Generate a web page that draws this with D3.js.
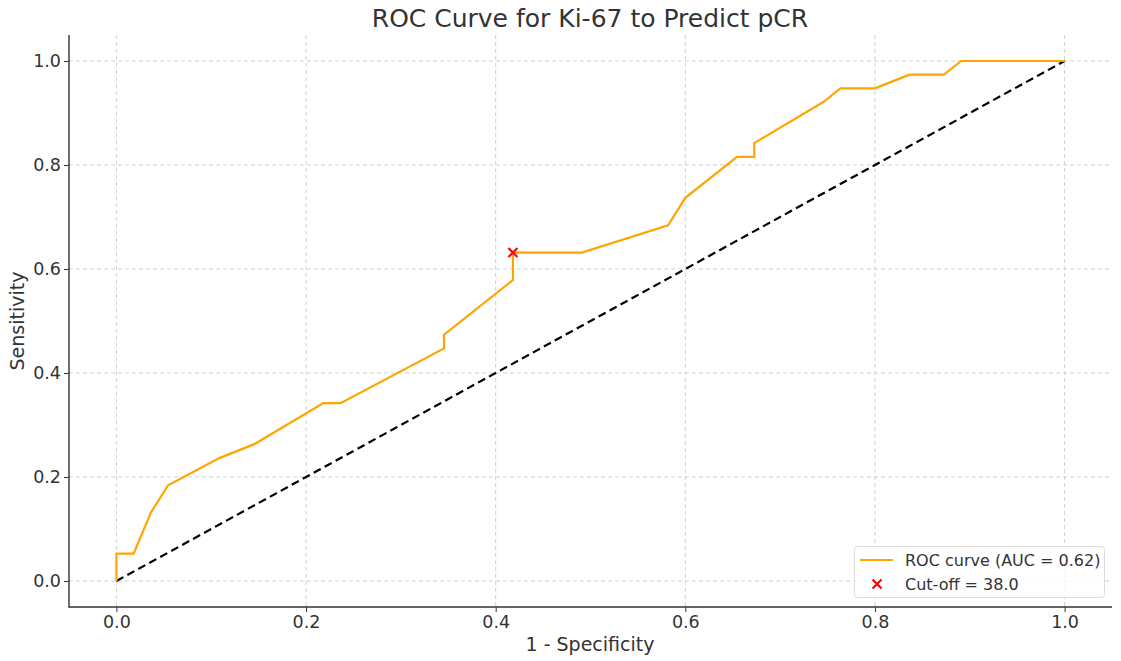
<!DOCTYPE html>
<html>
<head>
<meta charset="utf-8">
<script src="https://cdn.jsdelivr.net/npm/d3@7"></script>
<style>
  html, body { margin: 0; padding: 0; background: #fff; }
  svg { display: block; font-family: "DejaVu Sans", sans-serif; }
</style>
</head>
<body>
<svg id="chart" width="1121" height="661"></svg>
<script>
// ROC curve points (1 - Specificity, Sensitivity)
const fpr = [0, 0, 0.0182, 0.0364, 0.0545, 0.1091, 0.1455, 0.2182, 0.2364, 0.3455, 0.3455, 0.4182, 0.4182, 0.4909, 0.5818, 0.6, 0.6545, 0.6727, 0.6727, 0.7455, 0.7636, 0.8, 0.8364, 0.8727, 0.8909, 1.0];
const tpr = [0, 0.0526, 0.0526, 0.1316, 0.1842, 0.2368, 0.2632, 0.3421, 0.3421, 0.4474, 0.4737, 0.5789, 0.6316, 0.6316, 0.6842, 0.7368, 0.8158, 0.8158, 0.8421, 0.9211, 0.9474, 0.9474, 0.9737, 0.9737, 1.0, 1.0];
const cutoff = { fpr: 0.4182, tpr: 0.6316, label: "Cut-off = 38.0" };
const diagonal = [[0, 0], [1, 1]];
const xTicks = [0.0, 0.2, 0.4, 0.6, 0.8, 1.0];
const yTicks = [0.0, 0.2, 0.4, 0.6, 0.8, 1.0];
const title = "ROC Curve for Ki-67 to Predict pCR";
const xLabel = "1 - Specificity";
const yLabel = "Sensitivity";
const legendLabels = ["ROC curve (AUC = 0.62)", cutoff.label];

const svg = d3.select("#chart");
const L = 69, R = 1112, T = 35, B = 607;
const x = d3.scaleLinear().domain([-0.05, 1.05]).range([L, R]);
const y = d3.scaleLinear().domain([-0.05, 1.05]).range([B, T]);
const textColor = "#333333";

// grid
const grid = svg.append("g");
grid.selectAll("line.vx").data(xTicks).join("line")
  .attr("x1", d => x(d)).attr("x2", d => x(d)).attr("y1", T).attr("y2", B)
  .attr("stroke", "#d0d0d0").attr("stroke-width", 1).attr("stroke-dasharray", "4,3");
grid.selectAll("line.hy").data(yTicks).join("line")
  .attr("y1", d => y(d)).attr("y2", d => y(d)).attr("x1", L).attr("x2", R)
  .attr("stroke", "#d0d0d0").attr("stroke-width", 1).attr("stroke-dasharray", "4,3");

// diagonal
svg.append("path")
  .attr("d", d3.line().x(d => x(d[0])).y(d => y(d[1]))(diagonal))
  .attr("fill", "none").attr("stroke", "#000").attr("stroke-width", 2.2)
  .attr("stroke-dasharray", "8,4.5");

// ROC curve
const pts = fpr.map((f, i) => [f, tpr[i]]);
svg.append("path")
  .attr("d", d3.line().x(d => x(d[0])).y(d => y(d[1]))(pts))
  .attr("fill", "none").attr("stroke", "#FFA500").attr("stroke-width", 2.2)
  .attr("stroke-linejoin", "miter");

// cut-off marker
function xMark(g, cx, cy, s) {
  g.append("path")
    .attr("d", `M${cx - s},${cy - s}L${cx + s},${cy + s}M${cx - s},${cy + s}L${cx + s},${cy - s}`)
    .attr("stroke", "#ff0000").attr("stroke-width", 2.2).attr("fill", "none");
}
xMark(svg, x(cutoff.fpr), y(cutoff.tpr), 4.5);

// axes
const xAxis = d3.axisBottom(x).tickValues(xTicks).tickFormat(d3.format(".1f")).tickSize(5).tickPadding(4);
const yAxis = d3.axisLeft(y).tickValues(yTicks).tickFormat(d3.format(".1f")).tickSize(5).tickPadding(3);
const gx = svg.append("g").attr("transform", `translate(0,${B})`).call(xAxis);
const gy = svg.append("g").attr("transform", `translate(${L},0)`).call(yAxis);
[gx, gy].forEach(g => {
  g.select(".domain").remove();
  g.selectAll(".tick line").attr("stroke", textColor).attr("stroke-width", 1);
  g.selectAll(".tick text").attr("fill", textColor).attr("font-size", 17.5)
    .attr("font-family", "DejaVu Sans, sans-serif");
});
svg.append("line").attr("x1", L).attr("x2", L).attr("y1", T).attr("y2", B + 0.5)
  .attr("stroke", textColor).attr("stroke-width", 1.4);
svg.append("line").attr("x1", L - 0.5).attr("x2", R).attr("y1", B).attr("y2", B)
  .attr("stroke", textColor).attr("stroke-width", 1.4);

// labels
svg.append("text").attr("x", 590).attr("y", 27).attr("text-anchor", "middle")
  .attr("font-size", 25).attr("fill", textColor).text(title);
svg.append("text").attr("x", (L + R) / 2 - 0.5).attr("y", 651).attr("text-anchor", "middle")
  .attr("font-size", 19).attr("fill", textColor).text(xLabel);
svg.append("text").attr("transform", `translate(24,${(T + B) / 2}) rotate(-90)`)
  .attr("text-anchor", "middle").attr("font-size", 19).attr("fill", textColor).text(yLabel);

// legend
const lg = svg.append("g");
lg.append("rect").attr("x", 854.5).attr("y", 546.5).attr("width", 250).attr("height", 51)
  .attr("rx", 3).attr("fill", "#fff").attr("fill-opacity", 0.8)
  .attr("stroke", "#dddddd").attr("stroke-width", 1);
lg.append("line").attr("x1", 860).attr("x2", 893).attr("y1", 560).attr("y2", 560)
  .attr("stroke", "#FFA500").attr("stroke-width", 2.2);
xMark(lg, 877, 584, 4.5);
lg.selectAll("text").data(legendLabels).join("text")
  .attr("x", 905).attr("y", (d, i) => 566 + i * 24)
  .attr("font-size", 16).attr("fill", textColor).text(d => d);
</script>
</body>
</html>
